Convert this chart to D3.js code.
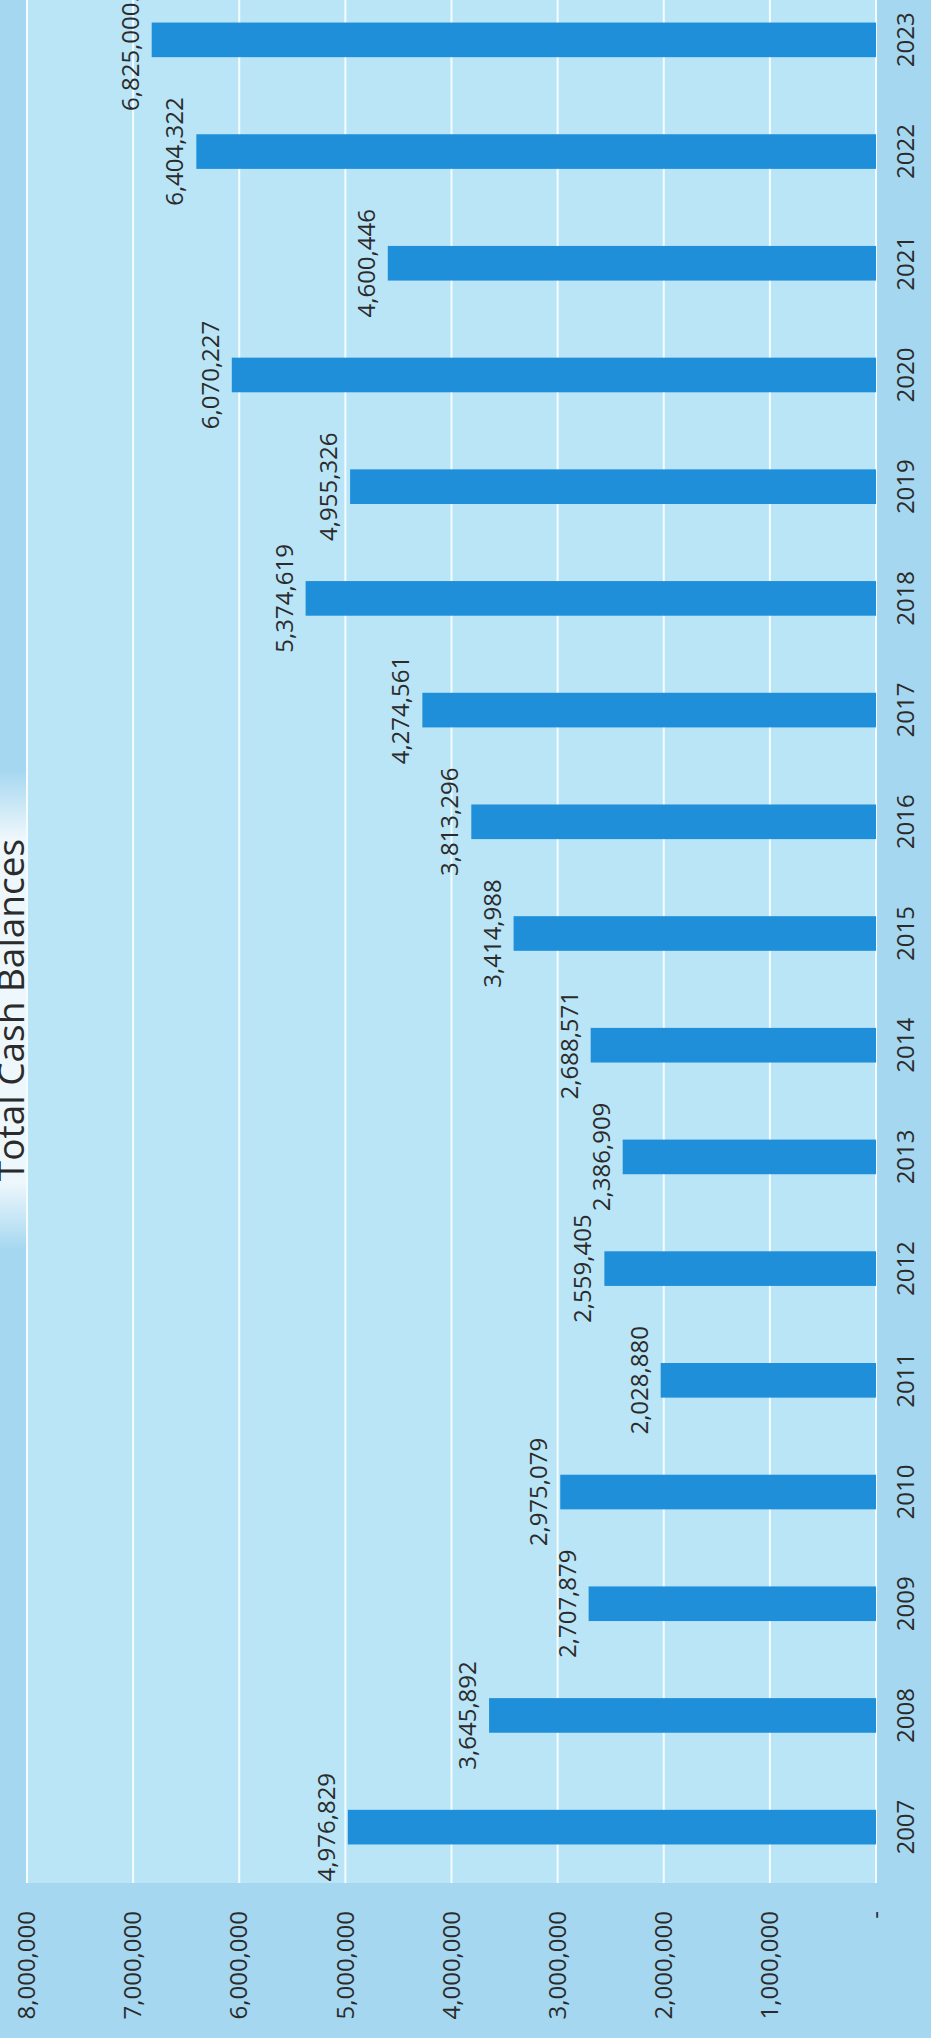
<!DOCTYPE html>
<html lang='en'>
  <head>
    <meta charset='utf-8'>
    <style type='text/css'>
      body {
        margin: 0;
        background-color: #a5d7f0;
      }
      #chart text {
        font-family: 'Open Sans', 'Noto Sans', sans-serif;
        fill: #2b2b2b;
      }
    </style>
  </head>
  <body>

    <div id='chart'>
      <svg width='931' height='2038'></svg>
    </div>

    <script src='https://d3js.org/d3.v7.min.js'></script>
    <script type='text/javascript'>
        // data
        var years = ["2007", "2008", "2009", "2010", "2011", "2012", "2013", "2014", "2015",
                     "2016", "2017", "2018", "2019", "2020", "2021", "2022", "2023"];
        var balances = [4976829, 3645892, 2707879, 2975079, 2028880, 2559405, 2386909, 2688571, 3414988,
                        3813296, 4274561, 5374619, 4955326, 6070227, 4600446, 6404322, 6825000.19];
        var tickValues = [0, 1000000, 2000000, 3000000, 4000000, 5000000, 6000000, 7000000, 8000000];
        var tickLabels = ["-", "1,000,000", "2,000,000", "3,000,000", "4,000,000",
                          "5,000,000", "6,000,000", "7,000,000", "8,000,000"];
        var title = "Total Cash Balances";

        // the page is a column chart turned a quarter turn to the left,
        // so draw it upright in a 2038 x 931 group and rotate the group
        var W = 2038, H = 931;
        var svg = d3.select("#chart svg");

        var defs = svg.append("defs");
        var fade = defs.append("linearGradient")
            .attr("id", "paper")
            .attr("x1", 0).attr("x2", 1).attr("y1", 0).attr("y2", 0);
        fade.append("stop").attr("offset", "0%").attr("stop-color", "#ffffff").attr("stop-opacity", 0);
        fade.append("stop").attr("offset", "14%").attr("stop-color", "#ffffff").attr("stop-opacity", 0.8);
        fade.append("stop").attr("offset", "86%").attr("stop-color", "#ffffff").attr("stop-opacity", 0.8);
        fade.append("stop").attr("offset", "100%").attr("stop-color", "#ffffff").attr("stop-opacity", 0);

        var g = svg.append("g")
            .attr("transform", "translate(0," + W + ") rotate(-90)");

        var plot = {left: 155, right: 2054, top: 27, bottom: 876};

        var x = d3.scaleBand()
            .domain(years)
            .range([plot.left, plot.right])
            .paddingInner(0.69)
            .paddingOuter(0.345);

        var y = d3.scaleLinear()
            .domain([0, 8000000])
            .range([plot.bottom, plot.top]);

        // outer background
        g.append("rect")
            .attr("x", 0).attr("y", 0)
            .attr("width", W).attr("height", H)
            .attr("fill", "#a5d7f0");

        // bit of white paper showing where the title sits
        g.append("rect")
            .attr("x", W - 1250).attr("y", 0)
            .attr("width", 480).attr("height", y(8000000))
            .attr("fill", "url(#paper)");

        // plot area
        g.append("rect")
            .attr("x", plot.left).attr("y", y(8000000))
            .attr("width", plot.right - plot.left)
            .attr("height", y(0) - y(8000000))
            .attr("fill", "#b9e5f7");

        // gridlines
        g.append("g").selectAll("line")
            .data(tickValues)
            .enter().append("line")
            .attr("x1", plot.left).attr("x2", plot.right)
            .attr("y1", function(d) { return y(d); })
            .attr("y2", function(d) { return y(d); })
            .attr("stroke", "#f4fcff")
            .attr("stroke-width", 2);

        // bars
        g.append("g").selectAll("rect")
            .data(balances)
            .enter().append("rect")
            .attr("x", function(d, i) { return x(years[i]); })
            .attr("y", function(d) { return y(d); })
            .attr("width", x.bandwidth())
            .attr("height", function(d) { return y(0) - y(d); })
            .attr("fill", "#1f8fd9");

        // value labels
        var fmt = d3.format(",");
        g.append("g").selectAll("text")
            .data(balances)
            .enter().append("text")
            .attr("x", function(d, i) { return x(years[i]) + x.bandwidth() / 2; })
            .attr("y", function(d) { return y(d) - 13; })
            .attr("text-anchor", "middle")
            .style("font-size", "24px")
            .text(function(d) { return fmt(d); });

        // year axis
        var xAxis = g.append("g")
            .attr("transform", "translate(0," + (plot.bottom + 30) + ")")
            .call(d3.axisBottom(x).tickSize(0).tickPadding(0));
        xAxis.select(".domain").remove();
        xAxis.selectAll("text")
            .attr("dy", "0.35em")
            .style("font-size", "24px");

        // value axis
        var yAxis = g.append("g")
            .attr("transform", "translate(" + (plot.left - 28) + ",0)")
            .call(d3.axisLeft(y)
                .tickValues(tickValues)
                .tickFormat(function(d, i) { return tickLabels[i]; })
                .tickSize(0).tickPadding(0));
        yAxis.select(".domain").remove();
        yAxis.selectAll("text")
            .style("font-size", "24px");

        // title, partly cut off by the edge of the scan
        g.append("text")
            .attr("x", W - 1010)
            .attr("y", 24)
            .attr("text-anchor", "middle")
            .style("font-size", "37px")
            .text(title);
    </script>
  </body>
</html>
